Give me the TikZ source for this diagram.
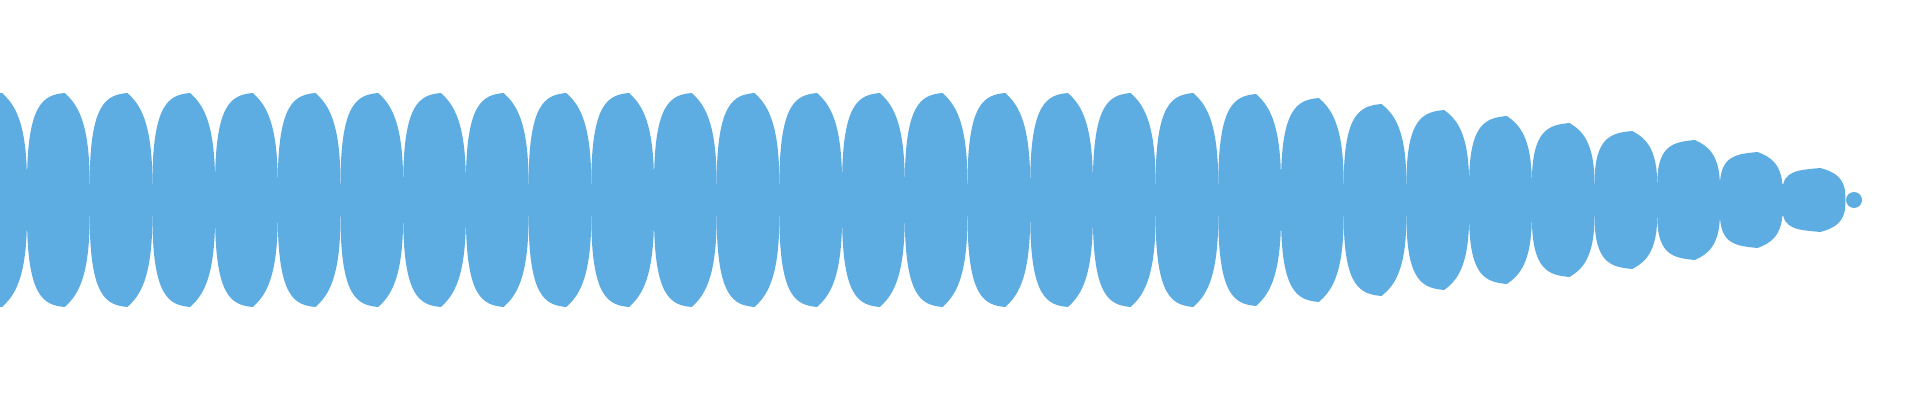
\documentclass[tikz,border=0pt]{standalone}
\usetikzlibrary{calc}
\definecolor{wave}{HTML}{5DADE2}
\begin{document}
\begin{tikzpicture}[x=0.5pt,y=-0.5pt,lobe/.style={fill=wave,draw=none}]
\useasboundingbox (0,0) rectangle (1920,400);
\clip (0,0) rectangle (1920,400);
\foreach \k/\A/\hs/\he in {0/107/16/16,1/107/16/16,2/107/16/16,3/107/16/16,4/107/16/16,5/107/16/16,6/107/16/16,7/107/16/16,8/107/16/16,9/107/16/16,10/107/16/16,11/107/16/16,12/107/16/16,13/107/16/16,14/107/16/16,15/107/16/16,16/107/16/16,17/107/16/16,18/107/16/16,19/107/16/16,20/106/16/16,21/102/16/16,22/96/16/16,23/90/16/16,24/84/16/16,25/77/16/16,26/69/16/16,27/60/16/14,28/48/14/10,29/32/10/4}{
  \pgfmathsetmacro\p{62.7*\k+2}
  \pgfmathsetmacro\m{\p-37.7}
  \pgfmathsetmacro\e{\p+25}
  \pgfmathsetmacro\L{\p-\m}
  \path[lobe] (\m,200-\hs)
    .. controls (\m,{200-\hs-0.9*(\A-\hs)}) and ({\p-0.55*\L},{200-\A+2}) .. (\p,{200-\A})
    .. controls ({\p+12},{200-\A+0.12*(\A-\he)}) and ({\e},{200-\he-0.7*(\A-\he)}) .. (\e,200-\he)
    -- (\e,200+\he)
    .. controls ({\e},{200+\he+0.7*(\A-\he)}) and ({\p+12},{200+\A-0.12*(\A-\he)}) .. (\p,{200+\A})
    .. controls ({\p-0.55*\L},{200+\A-2}) and (\m,{200+\hs+0.9*(\A-\hs)}) .. (\m,200+\hs) -- cycle;
}
\fill[wave] (0,184) rectangle (1840,216);
\fill[wave] (1854,200) circle[radius=8];
\end{tikzpicture}
\end{document}
